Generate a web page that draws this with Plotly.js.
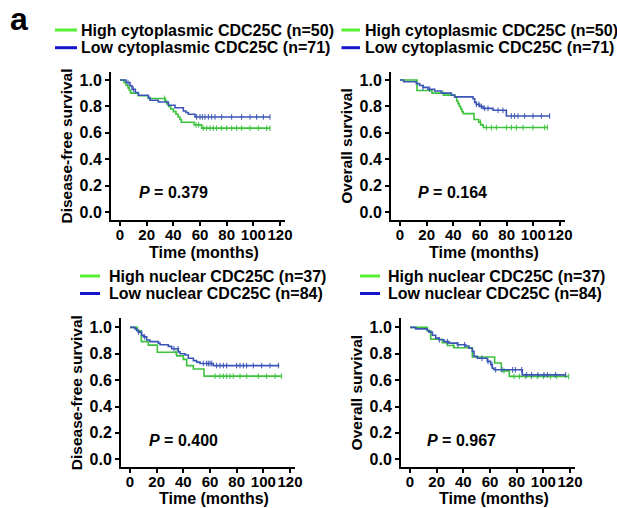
<!DOCTYPE html>
<html><head><meta charset="utf-8">
<script src="https://cdn.plot.ly/plotly-3.0.1.min.js"></script>
<style>html,body{margin:0;padding:0;background:#fff}#chart{width:617px;height:508px}</style>
</head><body><div id="chart"></div>
<script>
// ---- Panel 1: disease-free survival by cytoplasmic CDC25C ----
const dfsCytoHighT = [0, 3, 4.5, 6, 7, 8, 13.75, 21.25, 34, 35, 36.5, 38, 40, 42, 43.5, 45, 46, 55.5, 61.25, 112.5];
const dfsCytoHighS = [1, 0.98, 0.96, 0.94, 0.92, 0.90, 0.88, 0.86, 0.84, 0.82, 0.80, 0.78, 0.76, 0.74, 0.72, 0.70, 0.68, 0.66, 0.635, 0.635];
const dfsCytoHighCens = [33.5, 57, 59, 62.5, 65, 67.5, 70, 72.5, 76.25, 80, 83.75, 87.5, 91.25, 97.5, 103.75, 110, 112.5];
const dfsCytoLowT = [0, 4.5, 7.5, 9, 11.5, 13.75, 21.25, 22.5, 28.75, 36.25, 41.25, 47.5, 49.5, 51.25, 56.25, 112.5];
const dfsCytoLowS = [1, 0.98, 0.955, 0.93, 0.905, 0.884, 0.866, 0.846, 0.833, 0.808, 0.79, 0.765, 0.753, 0.74, 0.72, 0.72];
const dfsCytoLowCens = [6, 10, 57.5, 60, 61.75, 63.75, 66.25, 68.75, 71.25, 76.25, 83.75, 91.25, 97.5, 102.5, 107.5, 112.5];

// ---- Panel 2: overall survival by cytoplasmic CDC25C ----
const osCytoHighT = [0, 12.75, 24, 33, 41, 42.5, 43.5, 44.5, 45.5, 46.5, 47.5, 55.5, 59, 60.5, 62.5, 110.5];
const osCytoHighS = [1, 0.92, 0.90, 0.885, 0.87, 0.84, 0.82, 0.80, 0.78, 0.76, 0.745, 0.70, 0.68, 0.66, 0.64, 0.64];
const osCytoHighCens = [32.25, 60.25, 64.75, 68.5, 72.25, 79.75, 83.5, 87.25, 92.25, 99.75, 108.5, 110.5];
const osCytoLowT = [0, 2.75, 12.25, 14.75, 17.25, 21, 26, 31, 38.5, 41, 54.75, 56, 57.25, 59.75, 62.25, 69.75, 79.75, 112.5];
const osCytoLowS = [1, 0.986, 0.972, 0.958, 0.944, 0.93, 0.916, 0.90, 0.886, 0.872, 0.858, 0.83, 0.815, 0.80, 0.785, 0.77, 0.727, 0.727];
const osCytoLowCens = [17.25, 22.25, 57.25, 59.25, 61, 63.5, 66, 73.5, 77.25, 83.5, 86, 88.5, 93.5, 99.75, 106, 112.25];

// ---- Panel 3: disease-free survival by nuclear CDC25C ----
const dfsNucHighT = [0, 5.5, 8.5, 13.75, 20.5, 35, 40, 42.5, 47.5, 55.5, 113.75];
const dfsNucHighS = [1, 0.973, 0.892, 0.865, 0.811, 0.784, 0.757, 0.71, 0.684, 0.63, 0.63];
const dfsNucHighCens = [34.5, 63.75, 67.5, 70, 72.5, 75, 77.5, 82.5, 87.5, 96.25, 102.5, 108.75, 113.75];
const dfsNucLowT = [0, 3.75, 5, 6.25, 8.75, 10, 12.5, 15, 21.25, 22.5, 28.75, 31.25, 36.25, 37.5, 41.25, 43.75, 47.5, 50, 52.5, 62.5, 112];
const dfsNucLowS = [1, 0.988, 0.976, 0.964, 0.94, 0.928, 0.904, 0.892, 0.88, 0.868, 0.856, 0.838, 0.814, 0.80, 0.79, 0.766, 0.748, 0.736, 0.726, 0.71, 0.71];
const dfsNucLowCens = [6.5, 11, 33, 36, 55, 57.5, 58.75, 60, 61.25, 65, 67.5, 70, 72.5, 80, 82.5, 85, 87.5, 92.5, 98.75, 105, 111.25];

// ---- Panel 4: overall survival by nuclear CDC25C ----
const osNucHighT = [0, 13, 15.5, 24.25, 28, 33, 46.75, 63.5, 68.5, 74.5, 119];
const osNucHighS = [1, 0.973, 0.91, 0.883, 0.862, 0.845, 0.775, 0.73, 0.67, 0.628, 0.628];
const osNucHighCens = [32.5, 70.5, 78, 82, 86.75, 91, 95.5, 100, 105.5, 110, 119];
const osNucLowT = [0, 4.25, 13, 14.25, 16.75, 19.25, 21.75, 25.5, 29.25, 35.5, 41.75, 44.25, 46.75, 48, 50.5, 58, 60.5, 61.75, 63, 84.25, 116.75];
const osNucLowS = [1, 0.988, 0.976, 0.964, 0.94, 0.918, 0.906, 0.892, 0.88, 0.868, 0.858, 0.842, 0.818, 0.78, 0.766, 0.742, 0.716, 0.69, 0.678, 0.64, 0.64];
const osNucLowCens = [22, 28, 36, 41, 54, 58.5, 61.5, 64.25, 69, 77, 79, 83.75, 87.5, 91.25, 96, 100.5, 103, 109, 116.75];

// ---- Text ----
const legendCyto = ['High cytoplasmic CDC25C (n=50)', 'Low cytoplasmic CDC25C (n=71)'];
const legendNuc = ['High nuclear CDC25C (n=37)', 'Low nuclear CDC25C (n=84)'];
const yTitles = ['Disease-free survival', 'Overall survival', 'Disease-free survival', 'Overall survival'];
const xTitle = 'Time (months)';
const pValues = ['0.379', '0.164', '0.400', '0.967'];
const xTickVals = [0, 20, 40, 60, 80, 100, 120];
const yTickVals = [0, 0.2, 0.4, 0.6, 0.8, 1.0];

// ---- Styling ----
const W = 617, H = 508;
const FONT = 'Arial, "Liberation Sans", Helvetica, sans-serif';
const GREEN = '#3cc23c', BLUE = '#3a55b5';
const LEG_GREEN = '#55ee33', LEG_BLUE = '#1515cc';

function stepAt(T, S, t) {
  let v = S[0];
  for (let i = 0; i < T.length; i++) { if (T[i] <= t) v = S[i]; }
  return v;
}

const panels = [
  {hi: [dfsCytoHighT, dfsCytoHighS, dfsCytoHighCens], lo: [dfsCytoLowT, dfsCytoLowS, dfsCytoLowCens], names: legendCyto},
  {hi: [osCytoHighT, osCytoHighS, osCytoHighCens], lo: [osCytoLowT, osCytoLowS, osCytoLowCens], names: legendCyto},
  {hi: [dfsNucHighT, dfsNucHighS, dfsNucHighCens], lo: [dfsNucLowT, dfsNucLowS, dfsNucLowCens], names: legendNuc},
  {hi: [osNucHighT, osNucHighS, osNucHighCens], lo: [osNucLowT, osNucLowS, osNucLowCens], names: legendNuc}
];

// plot-area pixel boxes [left, right, top, bottom]
const boxes = [[111, 285, 72, 220], [391, 565, 72, 220], [121, 295, 318.1, 467.2], [401, 575, 318.1, 467.2]];
const yRanges = [[-0.06, 1.06], [-0.06, 1.06], [-0.06, 1.07], [-0.06, 1.07]];
const pPos = [[12.5, 0.145], [12, 0.145], [12.75, 0.141], [11.25, 0.141]];
const xTitleY = [252, 252, 498, 498];

const traces = [];
const layout = {
  width: W, height: H, margin: {l: 0, r: 0, t: 0, b: 0},
  paper_bgcolor: '#fff', plot_bgcolor: 'rgba(0,0,0,0)',
  showlegend: false, font: {family: FONT, color: '#000'},
  annotations: [], shapes: []
};

panels.forEach((p, i) => {
  const n = i === 0 ? '' : String(i + 1);
  const xa = 'x' + n, ya = 'y' + n;
  [[p.hi, GREEN, p.names[0]], [p.lo, BLUE, p.names[1]]].forEach(([d, c, name]) => {
    traces.push({x: d[0], y: d[1], xaxis: xa, yaxis: ya, type: 'scatter', mode: 'lines',
      line: {shape: 'hv', color: c, width: 1.6}, name: name, hoverinfo: 'skip'});
    traces.push({x: d[2], y: d[2].map(t => stepAt(d[0], d[1], t)), xaxis: xa, yaxis: ya, type: 'scatter',
      mode: 'markers', marker: {symbol: 'line-ns-open', size: 4, color: c, line: {color: c, width: 1}},
      name: name + ' censored', hoverinfo: 'skip'});
  });
  const b = boxes[i];
  layout['xaxis' + n] = {
    domain: [b[0] / W, b[1] / W], anchor: ya, range: [-6.75, 123.75], fixedrange: true,
    showline: true, linecolor: '#000', linewidth: 2, showgrid: false, zeroline: false,
    ticks: 'outside', ticklen: 4, tickwidth: 2, tickcolor: '#000', tickangle: 0, ticklabelstandoff: -4,
    tickvals: xTickVals, ticktext: xTickVals.map(String),
    tickfont: {family: FONT, size: 15, color: '#000', weight: 'bold'}
  };
  layout['yaxis' + n] = {
    domain: [1 - b[3] / H, 1 - b[2] / H], anchor: xa, range: yRanges[i], fixedrange: true,
    showline: true, linecolor: '#000', linewidth: 2, showgrid: false, zeroline: false,
    ticks: 'outside', ticklen: 4, tickwidth: 2, tickcolor: '#000',
    tickvals: yTickVals, tickformat: '.1f',
    tickfont: {family: FONT, size: 16, color: '#000', weight: 'bold'},
    title: {text: yTitles[i], font: {family: FONT, size: 15.5, color: '#000', weight: 'bold'}, standoff: 3}
  };
  // x-axis title
  layout.annotations.push({xref: xa, yref: 'paper', x: 63, y: 1 - xTitleY[i] / H, xanchor: 'center', yanchor: 'middle',
    text: xTitle, showarrow: false, font: {family: FONT, size: 16, color: '#000', weight: 'bold'}});
  layout.annotations.push({xref: xa, yref: ya, x: pPos[i][0], y: pPos[i][1], xanchor: 'left', yanchor: 'middle',
    text: '<i>P</i> = ' + pValues[i], showarrow: false,
    font: {family: FONT, size: 16, color: '#000', weight: 'bold'}});
});

// legends: [lineStart, lineEnd, textStart, row1 y, row2 y]
const legends = [
  [55, 77, 79, 30, 47.7, legendCyto],
  [341.5, 360, 363, 30, 47.7, legendCyto],
  [80, 100, 106.5, 276, 293.5, legendNuc],
  [360, 380, 386, 276, 293.5, legendNuc]
];
legends.forEach(L => {
  [[L[3], LEG_GREEN, L[5][0]], [L[4], LEG_BLUE, L[5][1]]].forEach(([yy, c, txt]) => {
    layout.shapes.push({type: 'line', xref: 'paper', yref: 'paper', x0: L[0] / W, x1: L[1] / W,
      y0: 1 - yy / H, y1: 1 - yy / H, line: {color: c, width: 3}});
    layout.annotations.push({xref: 'paper', yref: 'paper', x: L[2] / W, y: 1 - yy / H,
      xanchor: 'left', yanchor: 'middle', text: txt, showarrow: false,
      font: {family: FONT, size: 16, color: '#000', weight: 'bold'}});
  });
});

layout.annotations.push({xref: 'paper', yref: 'paper', x: 9 / W, y: 1, xanchor: 'left', yanchor: 'top',
  text: 'a', showarrow: false, borderpad: 0, font: {family: FONT, size: 32, color: '#000', weight: 'bold'}});

Plotly.newPlot('chart', traces, layout, {staticPlot: true, displayModeBar: false});
</script></body></html>
